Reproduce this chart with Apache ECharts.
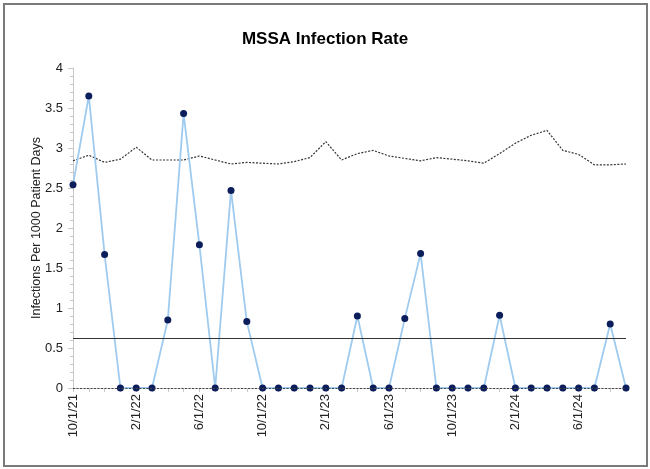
<!DOCTYPE html>
<html lang="en">
<head>
    <meta charset="utf-8">
    <title>MSSA Infection Rate</title>
    <script src="https://cdn.jsdelivr.net/npm/echarts@6/dist/echarts.min.js"></script>
    <style>
        html, body { margin: 0; padding: 0; background: #fff; }
        #main { width: 650px; height: 469px; }
        #frame { position: absolute; left: 3px; top: 3px; width: 641px; height: 460px;
                 border: 2px solid #7a7a7a; pointer-events: none; }
    </style>
</head>
<body>
<div id="main"></div>
<div id="frame"></div>
<script type="text/javascript">
    // months, 10/1/21 .. 9/1/24
    var months = [
        '10/1/21','11/1/21','12/1/21','1/1/22','2/1/22','3/1/22','4/1/22','5/1/22','6/1/22',
        '7/1/22','8/1/22','9/1/22','10/1/22','11/1/22','12/1/22','1/1/23','2/1/23','3/1/23',
        '4/1/23','5/1/23','6/1/23','7/1/23','8/1/23','9/1/23','10/1/23','11/1/23','12/1/23',
        '1/1/24','2/1/24','3/1/24','4/1/24','5/1/24','6/1/24','7/1/24','8/1/24','9/1/24'
    ];

    // infection rate per 1000 patient days
    var rate = [
        2.54, 3.65, 1.67, 0, 0, 0, 0.85, 3.43, 1.79,
        0, 2.47, 0.83, 0, 0, 0, 0, 0, 0,
        0.90, 0, 0, 0.87, 1.68, 0, 0, 0, 0,
        0.91, 0, 0, 0, 0, 0, 0, 0.80, 0
    ];

    // benchmark (dotted line)
    var benchmark = [
        2.84, 2.91, 2.82, 2.86, 3.01, 2.85, 2.85, 2.85, 2.90,
        2.85, 2.80, 2.82, 2.81, 2.80, 2.83, 2.88, 3.08, 2.85,
        2.93, 2.97, 2.90, 2.87, 2.84, 2.88, 2.86, 2.84, 2.81,
        2.93, 3.06, 3.16, 3.22, 2.97, 2.92, 2.79, 2.79, 2.80
    ];

    var myChart = echarts.init(document.getElementById('main'));
    var option = {
        animation: false,
        textStyle: { fontFamily: 'Liberation Sans, Arial, sans-serif' },
        title: {
            text: 'MSSA Infection Rate',
            left: 'center',
            top: 26,
            textStyle: { fontSize: 17, fontWeight: 'bold', color: '#000' }
        },
        grid: { left: 73, right: 24, top: 68, bottom: 81 },
        xAxis: {
            type: 'category',
            data: months,
            boundaryGap: false,
            axisLine: { lineStyle: { color: '#c8c8c8' } },
            axisTick: { alignWithLabel: true, interval: 0, length: 4, lineStyle: { color: '#c8c8c8' } },
            axisLabel: { interval: 3, rotate: 90, fontSize: 13, color: '#222', margin: 6 }
        },
        yAxis: {
            type: 'value',
            min: 0,
            max: 4,
            interval: 0.5,
            name: 'Infections Per 1000 Patient Days',
            nameLocation: 'middle',
            nameGap: 30,
            nameMoveOverlap: false,
            nameTextStyle: { fontSize: 12.5, color: '#222' },
            axisLine: { show: true, lineStyle: { color: '#c8c8c8' } },
            axisTick: { show: true, length: 5, lineStyle: { color: '#c8c8c8' } },
            minorTick: { show: true, splitNumber: 5, length: 3, lineStyle: { color: '#c8c8c8' } },
            splitLine: { show: false },
            axisLabel: { fontSize: 13, color: '#222', margin: 10 }
        },
        series: [
            {
                name: 'Benchmark',
                type: 'line',
                data: benchmark,
                symbol: 'none',
                lineStyle: { color: '#333', width: 1.2, type: [2, 1.5] },
                z: 2
            },
            {
                name: 'MSSA Rate',
                type: 'line',
                data: rate,
                symbol: 'circle',
                symbolSize: 7,
                itemStyle: { color: '#0b1d5a' },
                lineStyle: { color: '#9fcbef', width: 1.8 },
                markLine: {
                    silent: true,
                    symbol: 'none',
                    label: { show: false },
                    data: [
                        { type: 'average', lineStyle: { color: '#333', width: 1.2, type: 'solid' } },
                        { yAxis: 0, lineStyle: { color: '#444', width: 1.2, type: [2, 1.5] } }
                    ]
                },
                z: 3
            }
        ]
    };
    myChart.setOption(option);
</script>
</body>
</html>
